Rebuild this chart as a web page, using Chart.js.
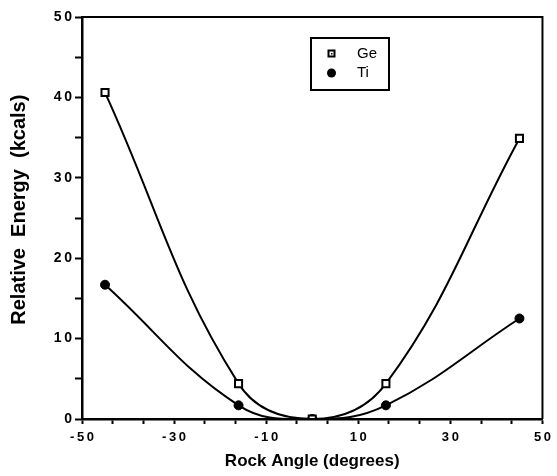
<!DOCTYPE html>
<html>
<head>
<meta charset="utf-8">
<script src="https://cdn.jsdelivr.net/npm/chart.js@4/dist/chart.umd.min.js"></script>
<style>
  html, body { margin: 0; padding: 0; background: #fff; }
  #wrap { width: 557px; height: 476px; }
</style>
</head>
<body>
<div id="wrap"><canvas id="rockChart" width="557" height="476"></canvas></div>
<script>
// data
const angles = [-45, -16, 0, 16, 45];
const geEnergy = [40.6, 4.4, 0, 4.4, 34.9];
const tiEnergy = [16.7, 1.7, 0, 1.7, 12.5];
const xMajorTicks = [-50, -30, -10, 10, 30, 50];
const yTicks = [0, 5, 10, 15, 20, 25, 30, 35, 40, 45, 50];
const legendLabels = ['Ge', 'Ti'];

const FONT = "Helvetica, Arial, 'Liberation Sans', sans-serif";

function toPoints(xs, ys) {
    return xs.map((x, i) => ({ x: x, y: ys[i] }));
}

function spaced(s) {
    return s.split('').join('\u2009');
}

// x axis has two minor ticks between labelled ones
const xTicks = [];
for (let i = 0; i < xMajorTicks.length; i++) {
    xTicks.push(xMajorTicks[i]);
    if (i < xMajorTicks.length - 1) {
        const step = (xMajorTicks[i + 1] - xMajorTicks[i]) / 3;
        xTicks.push(xMajorTicks[i] + step, xMajorTicks[i] + 2 * step);
    }
}

const frame = {
    id: 'frame',
    afterDraw(chart) {
        const { ctx, chartArea: a } = chart;
        ctx.save();
        ctx.strokeStyle = '#000';
        ctx.lineWidth = 2;
        ctx.beginPath();
        ctx.moveTo(a.left, a.top);
        ctx.lineTo(a.right, a.top);
        ctx.lineTo(a.right, a.bottom);
        ctx.stroke();

        // legend box
        ctx.lineWidth = 2;
        ctx.strokeRect(311, 38, 78, 52);
        ctx.fillStyle = '#000';
        ctx.font = '15px ' + FONT;
        ctx.textBaseline = 'middle';
        ctx.textAlign = 'left';
        ctx.fillText(legendLabels[0], 357, 54);
        ctx.fillText(legendLabels[1], 357, 73);
        // square marker
        ctx.fillStyle = '#fff';
        ctx.fillRect(328.5, 50.5, 6, 6);
        ctx.strokeRect(328.5, 50.5, 6, 6);
        ctx.fillStyle = '#000';
        ctx.fillRect(331, 53, 1.5, 1.5);
        // circle marker
        ctx.beginPath();
        ctx.arc(331.5, 73, 4.5, 0, Math.PI * 2);
        ctx.fill();
        ctx.restore();
    }
};

new Chart(document.getElementById('rockChart'), {
    type: 'scatter',
    data: {
        datasets: [
            {
                label: 'Ge',
                data: toPoints(angles, geEnergy),
                showLine: true,
                borderColor: '#000',
                borderWidth: 2,
                tension: 0.4,
                capBezierPoints: false,
                pointStyle: 'rect',
                pointRadius: 5,
                pointBorderWidth: 2,
                pointBackgroundColor: '#fff',
                pointBorderColor: '#000'
            },
            {
                label: 'Ti',
                data: toPoints(angles, tiEnergy),
                showLine: true,
                borderColor: '#000',
                borderWidth: 2,
                tension: 0.4,
                capBezierPoints: false,
                pointStyle: 'circle',
                pointRadius: 4.5,
                pointBorderWidth: 1,
                pointBackgroundColor: '#000',
                pointBorderColor: '#000'
            }
        ]
    },
    options: {
        responsive: false,
        animation: false,
        layout: { padding: { left: 0, top: 17, right: 11, bottom: 0 } },
        plugins: {
            legend: { display: false },
            tooltip: { enabled: false }
        },
        scales: {
            x: {
                type: 'linear',
                min: -50,
                max: 50,
                afterBuildTicks: (scale) => {
                    scale.ticks = xTicks.map(v => ({ value: v }));
                },
                afterFit: (scale) => { scale.height = 57; },
                grid: { drawOnChartArea: false, tickLength: 5, tickWidth: 2, color: '#000' },
                border: { color: '#000', width: 2.5, z: 1 },
                ticks: {
                    color: '#000',
                    maxRotation: 0,
                    autoSkip: false,
                    padding: 6,
                    font: { family: FONT, size: 13, weight: 'bold' },
                    callback: (v) => {
                        const r = Math.round(v);
                        if (Math.abs(r - v) > 1e-6 || !xMajorTicks.includes(r)) return '';
                        return spaced(String(r));
                    }
                },
                title: {
                    display: true,
                    text: 'Rock Angle (degrees)',
                    color: '#000',
                    font: { family: FONT, size: 17, weight: 'bold' },
                    padding: { top: 0, bottom: 4 }
                }
            },
            y: {
                min: 0,
                max: 50,
                afterBuildTicks: (scale) => {
                    scale.ticks = yTicks.map(v => ({ value: v }));
                },
                afterFit: (scale) => { scale.width = 82; },
                grid: { drawOnChartArea: false, tickLength: 7, tickWidth: 2, color: '#000' },
                border: { color: '#000', width: 2.5 },
                ticks: {
                    color: '#000',
                    padding: 3,
                    font: { family: FONT, size: 14, weight: 'bold' },
                    callback: (v) => (v % 10 === 0 ? spaced(String(v)) : '')
                },
                title: {
                    display: true,
                    text: '   Relative  Energy  (kcals)',
                    color: '#000',
                    font: { family: FONT, size: 20, weight: 'bold' },
                    padding: { top: 7, bottom: 0 }
                }
            }
        }
    },
    plugins: [frame]
});
</script>
</body>
</html>
